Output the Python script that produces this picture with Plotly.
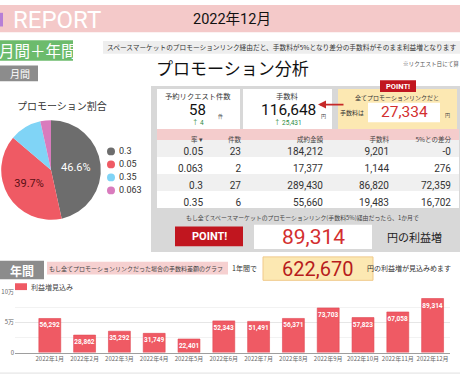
import plotly.graph_objects as go

# ---------------- data ----------------
months = ['2022年1月', '2022年2月', '2022年3月', '2022年4月', '2022年5月', '2022年6月',
          '2022年7月', '2022年8月', '2022年9月', '2022年10月', '2022年11月', '2022年12月']
profit = [56292, 28862, 35292, 31749, 22401, 52343, 51491, 56371, 73703, 57823, 67058, 89314]

pie_labels = ['0.3', '0.05', '0.35', '0.063']
pie_values = [27, 23, 6, 2]

rates = ['0.05', '0.063', '0.3', '0.35']
counts = [23, 2, 27, 6]
contract = [184212, 17377, 289430, 55660]
fees = [9201, 1144, 86820, 19483]
diff = ['-0', 276, 72359, 16702]
table_headers = ['率 ▾', '件数', '成約金額', '手数料', '5%との差分']

requests, requests_delta = 58, 4
fee_total, fee_delta = 116648, 25431
all_promo_fee = 27334
month_gain = 89314
year_gain = 622670

# ---------------- helpers ----------------
W, H = 460, 380
JP = 'Noto Sans CJK JP, Roboto, sans-serif'
NUM = 'Roboto, Noto Sans CJK JP, sans-serif'
shapes, annots = [], []


def X(p):
    return p / W


def Y(p):
    return 1 - p / H


def rect(x0, y0, x1, y1, fill, line=None, lw=1):
    shapes.append(dict(type='rect', xref='paper', yref='paper', x0=X(x0), x1=X(x1),
                       y0=Y(y1), y1=Y(y0), fillcolor=fill, layer='below',
                       line=dict(width=lw if line else 0, color=line or fill)))


def circle(cx, cy, r, fill):
    shapes.append(dict(type='circle', xref='paper', yref='paper', x0=X(cx - r), x1=X(cx + r),
                       y0=Y(cy + r), y1=Y(cy - r), fillcolor=fill, line=dict(width=0)))


def text(x, y, s, size, color='#222', anchor='center', family=JP, weight='normal'):
    annots.append(dict(xref='paper', yref='paper', x=X(x), y=Y(y), text=s, showarrow=False,
                       xanchor=anchor, yanchor='middle', borderpad=0,
                       font=dict(size=size, color=color, family=family, weight=weight)))


RED = '#ef5a64'
PINK = '#f4c9c9'

# ---------------- header ----------------
rect(0, 0, 460, 28, PINK)
rect(0, 8, 3, 22, '#b67fd6')
text(12, 15, 'REPORT', 24, 'white', 'left', NUM)
text(232, 15, '2022年12月', 14.5, '#111', 'center', NUM)

rect(0, 36, 73, 57, '#6cbb6c')
text(38, 46.5, '月間＋年間', 15.5, 'white')
rect(103, 37, 460, 50, '#eeeeee')
text(106, 43.5, 'スペースマーケットのプロモーションリンク経由だと、手数料が5%となり差分の手数料がそのまま利益増となります',
     6.7, '#333', 'left')

rect(0, 62, 38, 78, '#8c8c8c')
text(20, 70, '月間', 10, 'white')

text(232, 64, 'プロモーション分析', 17, '#111')
text(402, 60, '※リクエスト日にて算', 5.6, '#555', 'left')

# ---------------- pie ----------------
text(62, 103, 'プロモーション割合', 10, '#333')
pie_colors = ['#6d6d6d', RED, '#80d4f6', '#d97bbd']
for i, (lab, col) in enumerate(zip(pie_labels, pie_colors)):
    yy = 150 + i * 13.3
    circle(111, yy, 4, col)
    text(118, yy, lab, 9, '#333', 'left', NUM)

# ---------------- right panel ----------------
rect(151, 83, 460, 253, '#d8d8d8')
# card 1
rect(157, 86, 240, 127, 'white')
text(198, 93, '予約リクエスト件数', 7.3, '#333')
text(197, 108, f'{requests}', 15, '#111', 'center', NUM)
text(220, 114, '件', 5, '#444')
text(198, 121, f'↑ {requests_delta}', 6.5, '#2e8b3e', 'center', NUM)
# card 2
rect(243, 86, 332, 127, 'white')
text(287, 93, '手数料', 7.3, '#333')
text(288, 108, f'{fee_total:,}', 15.5, '#111', 'center', NUM)
text(323, 114, '円', 5, '#444')
text(288, 121, f'↑ {fee_delta:,}', 6.5, '#2e8b3e', 'center', NUM)
# arrow
annots.append(dict(xref='paper', yref='paper', x=X(318), y=Y(102), ax=27, ay=0,
                   text='', showarrow=True, arrowhead=2,
                   arrowsize=1, arrowwidth=1.6, arrowcolor='#c62828'))
# card 3
rect(338, 86, 457, 127, '#fce8b2')
rect(380, 77, 416, 89, '#c1161f')
text(398, 83, 'POINT!', 7.5, 'white', 'center', NUM, 'bold')
text(397, 95, '全てプロモーションリンクだと', 6, '#333')
text(352, 110, '手数料は', 6, '#333')
rect(368, 100, 440, 120, 'white')
text(404, 110, f'{all_promo_fee:,}', 15.5, '#d32f2f', 'center', NUM)
text(447, 113, '円', 5, '#444')

# bottom of panel
text(302, 218, 'もし全てスペースマーケットのプロモーションリンク(手数料5%)経由だったら、1か月で', 5.9, '#444')
rect(175, 227, 243, 247, '#c1161f')
text(209, 237, 'POINT!', 11, 'white', 'center', NUM, 'bold')
rect(254, 225, 372, 250, 'white')
text(313, 238, f'{month_gain:,}', 21, '#d32f2f', 'center', NUM)
text(414, 238, '円の利益増', 11, '#222')

# ---------------- yearly section ----------------
rect(0, 262, 44, 281, '#8c8c8c')
text(22, 271.5, '年間', 12, 'white', 'center', JP, 'bold')
rect(47, 263, 228, 276, '#f6d0d0')
text(136, 269.5, 'もし全てプロモーションリンクだった場合の手数料差額のグラフ', 6, '#444')
text(244, 269, '1年間で', 7, '#333')
rect(263, 258, 373, 282, '#fce8b2', '#f0c98a', 1)
text(317, 270, f'{year_gain:,}', 20, '#b71c1c', 'center', NUM)
text(409, 269, '円の利益増が見込みめます', 7, '#333')

rect(15, 285, 27, 292, RED)
text(30, 288.5, '利益増見込み', 7, '#444', 'left')
shapes.append(dict(type='line', xref='paper', yref='paper', x0=0, x1=1, y0=Y(377), y1=Y(377),
                   line=dict(color='#e0e0e0', width=1)))

# ---------------- traces ----------------
fig = go.Figure()

fig.add_trace(go.Pie(
    labels=pie_labels, values=pie_values, sort=False, direction='clockwise', rotation=0,
    marker=dict(colors=pie_colors, line=dict(width=0)),
    texttemplate=['%{percent}', '%{percent}', '', ''], textposition='inside',
    textfont=dict(size=11, color=['white', '#5a0f14', '#333', '#333'], family=NUM),
    insidetextorientation='horizontal', showlegend=False, hoverinfo='skip',
    domain=dict(x=[0, X(102)], y=[Y(220), Y(118)])))

fig.add_trace(go.Table(
    domain=dict(x=[X(157), X(459)], y=[Y(216), Y(127)]),
    columnwidth=[54, 38, 82, 66, 62],
    header=dict(values=table_headers, align='right', height=11,
                fill=dict(color='#f4cccc'), line=dict(width=0),
                font=dict(size=6.5, color='#444', family=JP)),
    cells=dict(values=[rates, counts,
                       [f'{v:,}' for v in contract],
                       [f'{v:,}' for v in fees],
                       [v if isinstance(v, str) else f'{v:,}' for v in diff]],
               align='right', height=17, line=dict(width=0),
               fill=dict(color=[['#f0f0f0', 'white', '#f0f0f0', 'white']]),
               font=dict(size=10, color='#333', family=NUM))))

fig.add_trace(go.Bar(
    x=months, y=profit, marker=dict(color=RED, line=dict(color='#e04652', width=0.6)),
    width=0.63, text=[f'{v:,}' for v in profit], textposition='inside', textangle=0,
    insidetextanchor='end', constraintext='none', cliponaxis=False,
    textfont=dict(size=6.5, color='white', family=NUM, weight='bold'),
    showlegend=False, hoverinfo='skip'))

fig.update_layout(
    width=W, height=H, margin=dict(l=0, r=0, t=0, b=0),
    paper_bgcolor='white', plot_bgcolor='white',
    showlegend=False, shapes=shapes, annotations=annots,
    font=dict(family=JP),
    xaxis=dict(domain=[X(15), X(450)], range=[-1, 11.5], showgrid=False, showline=True,
               linecolor='#9e9e9e', linewidth=1, ticks='', tickfont=dict(size=6, color='#666'),
               tickangle=0, fixedrange=True),
    yaxis=dict(domain=[Y(356), Y(294)], range=[0, 100000], tickvals=[0, 50000, 100000],
               ticktext=['0', '5万', '10万'], tickfont=dict(size=6, color='#666'),
               showgrid=True, gridcolor='#e6e6e6', zeroline=False,
               minor=dict(dtick=25000, showgrid=True, gridcolor='#f2f2f2'), fixedrange=True),
)

fig.write_html('out.html')
